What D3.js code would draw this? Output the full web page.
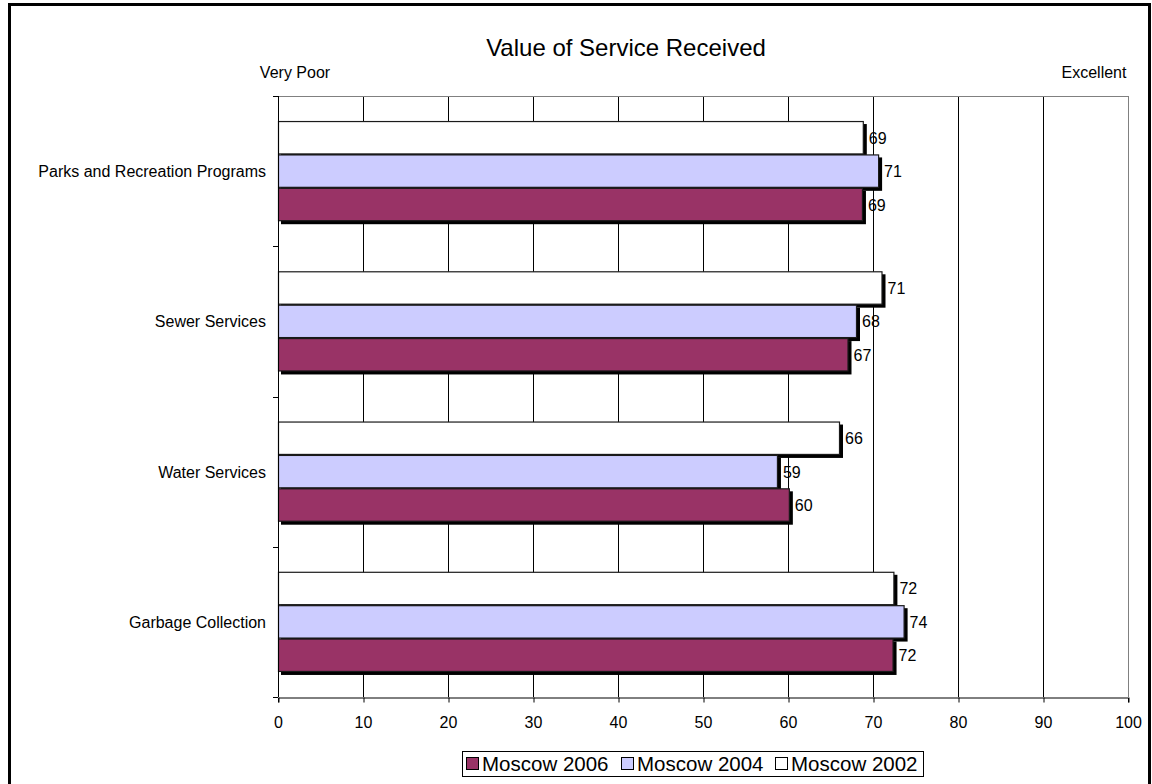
<!DOCTYPE html>
<html><head><meta charset="utf-8">
<script src="https://cdn.jsdelivr.net/npm/d3@7"></script>
<style>body{margin:0;background:#fff}svg{display:block;font-family:"Liberation Sans",Arial,sans-serif}</style>
</head><body><svg id="c" width="1152" height="784"></svg>
<script>
const categories = ["Parks and Recreation Programs","Sewer Services","Water Services","Garbage Collection"];
const seriesNames = ["Moscow 2002","Moscow 2004","Moscow 2006"];
const moscow2002 = [68.8, 71.0, 66.0, 72.4];
const moscow2004 = [70.6, 68.0, 58.7, 73.6];
const moscow2006 = [68.7, 67.0, 60.1, 72.3];
const xTicks = [0,10,20,30,40,50,60,70,80,90,100];
const legendOrder = ["Moscow 2006","Moscow 2004","Moscow 2002"];
const colors = {"Moscow 2002":"#FFFFFF","Moscow 2004":"#CCCCFF","Moscow 2006":"#993366"};
const values = {"Moscow 2002":moscow2002,"Moscow 2004":moscow2004,"Moscow 2006":moscow2006};

const svg = d3.select("#c");
// outer border
svg.append("rect").attr("x",9.5).attr("y",4.5).attr("width",1140).attr("height",800)
  .attr("fill","none").attr("stroke","#000").attr("stroke-width",3);

const L=278,R=1128,T=96,B=697;
const x = d3.scaleLinear().domain([0,100]).range([L,R]);
const y0 = d3.scaleBand().domain(categories).range([T,B]).paddingInner(1/3).paddingOuter(1/6);
const y1 = d3.scaleBand().domain(seriesNames).range([0,y0.bandwidth()]);

// title & end labels
svg.append("text").attr("x",626).attr("y",56).attr("text-anchor","middle").attr("font-size",24).text("Value of Service Received");
svg.append("text").attr("x",295).attr("y",78).attr("text-anchor","middle").attr("font-size",16).text("Very Poor");
svg.append("text").attr("x",1094).attr("y",78).attr("text-anchor","middle").attr("font-size",16).text("Excellent");

// gridlines
svg.append("g").selectAll("line").data(xTicks.filter(d=>d>0)).join("line")
  .attr("x1",d=>x(d)+0.5).attr("x2",d=>x(d)+0.5).attr("y1",T).attr("y2",B)
  .attr("stroke",d=>d===100?"#808080":"#000").attr("stroke-width",1);
// plot top border
svg.append("line").attr("x1",L).attr("x2",R).attr("y1",T+0.5).attr("y2",T+0.5).attr("stroke","#808080");

// bars
const g = svg.append("g");
categories.forEach((c,i)=>{
  seriesNames.forEach(s=>{
    const v = values[s][i];
    const yy = y0(c)+y1(s);
    const h = y1.bandwidth();
    g.append("rect").attr("x",x(0)+3).attr("y",yy+3).attr("width",x(v)-x(0)+1).attr("height",h).attr("fill","#000");
  });
});
categories.forEach((c,i)=>{
  seriesNames.forEach(s=>{
    const v = values[s][i];
    const yy = y0(c)+y1(s);
    const h = y1.bandwidth();
    g.append("rect").attr("x",x(0)+0.5).attr("y",yy+0.5).attr("width",x(v)-x(0)).attr("height",h-1)
      .attr("fill",colors[s]).attr("stroke","#1a1a1a").attr("stroke-width",1.2);
    g.append("text").attr("x",x(v)+6).attr("y",yy+h/2+6).attr("font-size",16).text(d3.format(".0f")(v));
  });
});

// x axis
const xa = svg.append("g").attr("transform",`translate(0,${B+0.5})`)
  .call(d3.axisBottom(x).tickValues(xTicks).tickSize(5).tickPadding(14));
xa.select(".domain").attr("stroke","#000");
xa.selectAll("text").attr("font-size",16).attr("font-family","Liberation Sans, Arial");
xa.selectAll("line").attr("transform","translate(0.5,0)");

// y axis line and ticks at category boundaries
svg.append("line").attr("x1",L+0.5).attr("x2",L+0.5).attr("y1",T).attr("y2",B).attr("stroke","#000");
const bounds = d3.range(categories.length+1).map(k=>T+k*y0.step());
svg.append("g").selectAll("line").data(bounds).join("line")
  .attr("x1",L-5).attr("x2",L).attr("y1",d=>Math.round(d)+0.5).attr("y2",d=>Math.round(d)+0.5).attr("stroke","#000");
svg.append("g").selectAll("text").data(categories).join("text")
  .attr("x",266).attr("y",c=>y0(c)+y0.bandwidth()/2+6).attr("text-anchor","end").attr("font-size",16).text(c=>c);

// legend
const lg = svg.append("g");
lg.append("rect").attr("x",462.5).attr("y",751.5).attr("width",461).attr("height",25).attr("fill","#fff").attr("stroke","#000");
const legX = [466, 621, 775];
legendOrder.forEach((s,i)=>{
  lg.append("rect").attr("x",legX[i]+0.5).attr("y",757.5).attr("width",12).attr("height",12).attr("fill",colors[s]).attr("stroke","#000");
  lg.append("text").attr("x",legX[i]+16).attr("y",771).attr("font-size",20.5).text(s);
});
</script></body></html>
